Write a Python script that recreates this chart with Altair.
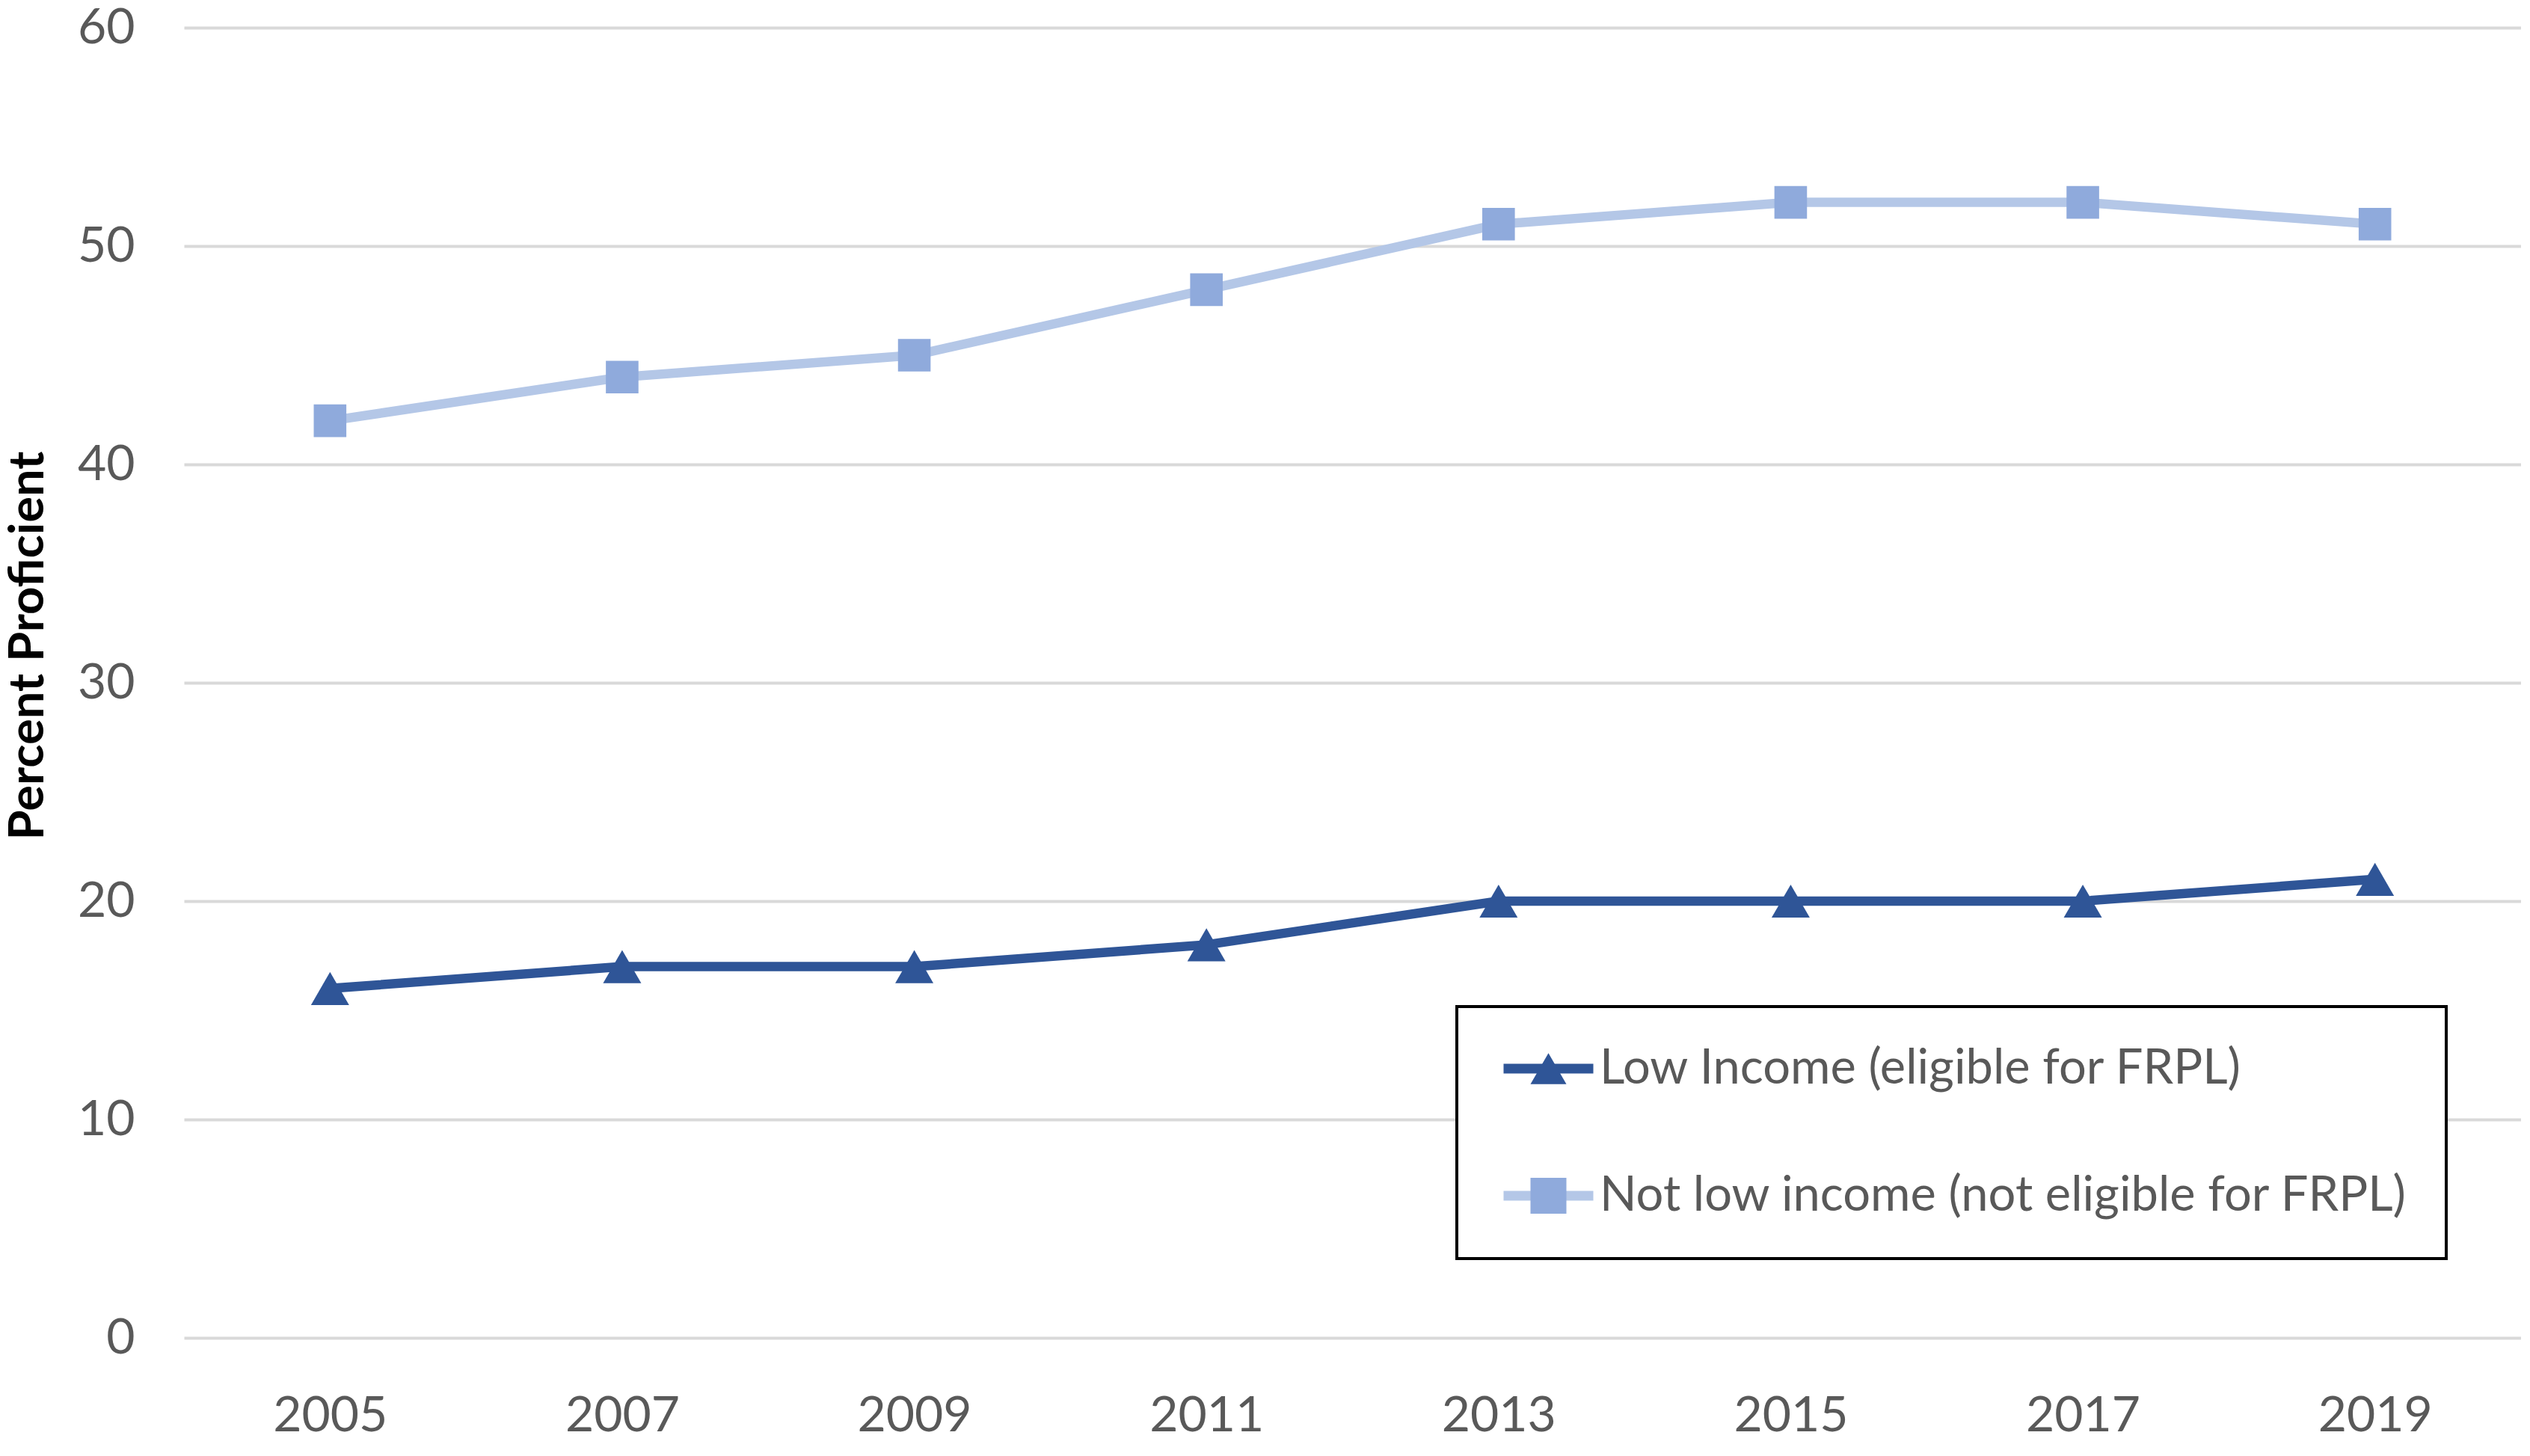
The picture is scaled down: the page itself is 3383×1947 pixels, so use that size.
import altair as alt
import pandas as pd

years = ["2005", "2007", "2009", "2011", "2013", "2015", "2017", "2019"]
low_income = [16, 17, 17, 18, 20, 20, 20, 21]
not_low_income = [42, 44, 45, 48, 51, 52, 52, 51]
series_names = ["Low Income (eligible for FRPL)", "Not low income (not eligible for FRPL)"]
marker_keys = ["low_marker", "not_low_marker"]
size_keys = ["low_size", "not_low_size"]
line_colors = ["#2f5597", "#b4c7e7"]
marker_colors = ["#2f5597", "#8faadc"]
marker_shapes = ["triangle-up", "square"]
marker_sizes = [2600, 1900]
y_ticks = [0, 10, 20, 30, 40, 50, 60]

rows = []
for name, key, skey, vals in zip(series_names, marker_keys, size_keys, [low_income, not_low_income]):
    for yr, v in zip(years, vals):
        rows.append({"Year": yr, "Percent": v, "Series": name, "Marker": key, "MarkerSize": skey})
df = pd.DataFrame(rows)

FONT = "Lato"
GRAY = "#595959"
LEG_X, LEG_Y = 1702, 1309

x_enc = alt.X(
    "Year:O",
    sort=years,
    scale=alt.Scale(type="point", padding=0.5),
    axis=alt.Axis(
        title=None, labelAngle=0, ticks=False, tickSize=0, domain=False, grid=False,
        labelPadding=72, labelFontSize=66, labelColor=GRAY, labelFont=FONT,
    ),
)
y_enc = alt.Y(
    "Percent:Q",
    scale=alt.Scale(domain=[0, 60], nice=False),
    axis=alt.Axis(
        values=y_ticks, title="Percent Proficient", titleFont=FONT, titleFontSize=65,
        titleFontWeight="bold", titleColor="black", titleX=-209, titleY=826,
        titleAlign="center", titleBaseline="middle", titleAngle=270,
        ticks=False, tickSize=0, domain=False, grid=True, gridColor="#d9d9d9", gridWidth=4,
        labelPadding=66, labelFontSize=66, labelColor=GRAY, labelFont=FONT,
    ),
)

common_leg = dict(
    title=None, orient="none", legendX=LEG_X, legendY=LEG_Y, direction="vertical",
    padding=51, symbolSize=2304, symbolOffset=39, labelOffset=36, rowPadding=105,
    clipHeight=64, labelFontSize=65, labelFont=FONT, labelLimit=2000,
)

legend_lines = alt.Legend(
    **common_leg,
    strokeColor="black", fillColor="white",
    labelColor=GRAY, symbolType="M-2.5,0H2.5", symbolStrokeWidth=13, zindex=1,
)
legend_marks = alt.Legend(
    **common_leg,
    labelExpr="''", labelColor="transparent", symbolStrokeWidth=0, zindex=2,
)

lines = alt.Chart(df).mark_line(strokeWidth=12.5).encode(
    x=x_enc,
    y=y_enc,
    stroke=alt.Stroke("Series:N", scale=alt.Scale(domain=series_names, range=line_colors),
                      legend=legend_lines),
)

points = alt.Chart(df).mark_point(filled=True, opacity=1).encode(
    x=x_enc,
    y=y_enc,
    fill=alt.Fill("Marker:N", scale=alt.Scale(domain=marker_keys, range=marker_colors),
                  legend=legend_marks),
    shape=alt.Shape("Marker:N", scale=alt.Scale(domain=marker_keys, range=marker_shapes),
                    legend=legend_marks),
    size=alt.Size("MarkerSize:N", scale=alt.Scale(domain=size_keys, range=marker_sizes),
                  legend=None),
)

chart = alt.layer(lines, points).properties(
    width=3125,
    height=1752,
    autosize=alt.AutoSizeParams(type="none"),
    padding={"left": 238, "top": 29, "right": 0, "bottom": 140},
    background="white",
).configure_view(stroke=None).configure_legend(strokeWidth=4)

chart.save("out.html", embed_options={"renderer": "svg", "actions": False})
